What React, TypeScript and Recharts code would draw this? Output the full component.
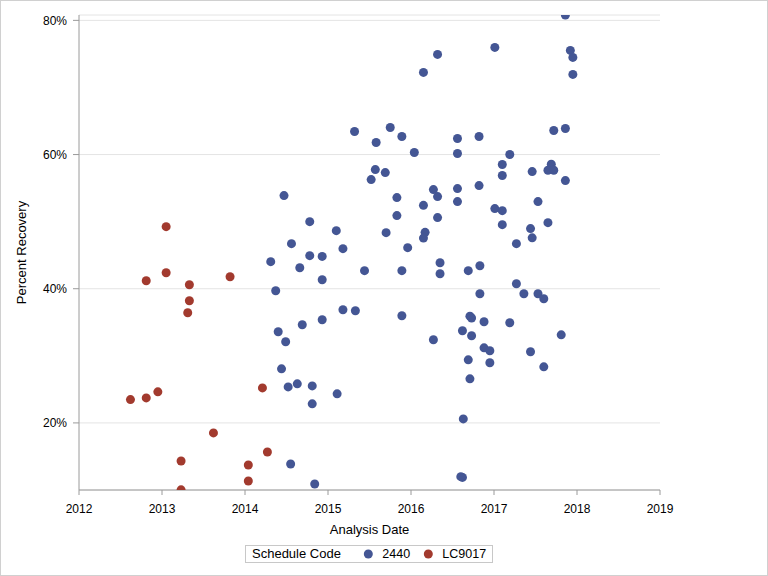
import React from 'react';
import { ScatterChart, Scatter, XAxis, YAxis, CartesianGrid, ReferenceArea } from 'recharts';

const xTicks = [2012, 2013, 2014, 2015, 2016, 2017, 2018, 2019];
const yTicks = [20, 40, 60, 80];

const seriesNames = ['2440', 'LC9017'];
const seriesColors = ['#445694', '#A23A2E'];

const dates2440 = [2017.86,2017.92,2017.95,2017.95,2017.01,2016.32,2016.15,2017.72,2017.86,2015.32,
  2015.58,2015.75,2015.89,2016.04,2016.56,2016.82,2016.56,2017.19,2017.10,2017.10,
  2017.46,2017.69,2017.65,2017.72,2017.86,2015.57,2015.69,2015.52,2014.47,2015.83,
  2016.27,2016.32,2016.56,2016.82,2016.15,2016.56,2017.01,2017.10,2017.53,2015.83,
  2016.32,2017.10,2017.65,2014.78,2015.10,2015.70,2016.17,2016.15,2017.44,2017.46,
  2014.56,2015.18,2015.96,2017.27,2014.31,2014.78,2014.93,2014.66,2015.44,2015.89,
  2016.35,2016.35,2016.69,2016.83,2014.93,2014.37,2017.27,2016.83,2017.36,2017.53,
  2017.60,2015.18,2015.33,2015.89,2014.93,2014.69,2014.40,2014.49,2016.71,2016.73,
  2016.88,2017.19,2016.62,2016.73,2016.27,2017.81,2016.88,2016.95,2017.44,2016.69,
  2016.95,2017.60,2014.44,2016.71,2014.52,2014.63,2014.81,2015.11,2014.81,2016.63,
  2014.55,2016.62,2016.60,2014.84];
const values2440 = [80.79,75.52,74.48,71.94,75.97,74.93,72.24,63.58,63.88,63.43,
  61.79,64.03,62.69,60.30,62.39,62.69,60.15,60.0,58.51,56.87,
  57.46,58.55,57.66,57.66,56.12,57.76,57.31,56.27,53.88,53.58,
  54.78,53.73,54.93,55.37,52.43,52.99,51.94,51.64,52.99,50.90,
  50.60,49.55,49.85,50.0,48.66,48.36,48.40,47.55,48.96,47.58,
  46.72,45.97,46.12,46.72,44.03,44.93,44.82,43.13,42.69,42.69,
  43.88,42.24,42.69,43.43,41.34,39.70,40.75,39.25,39.25,39.25,
  38.51,36.87,36.72,35.97,35.37,34.63,33.58,32.09,35.91,35.64,
  35.07,34.93,33.73,32.99,32.39,33.13,31.19,30.75,30.60,29.40,
  28.96,28.36,28.06,26.57,25.37,25.82,25.52,24.33,22.84,20.60,
  13.88,11.88,11.99,10.90];

const datesLC9017 = [2013.05,2012.81,2013.05,2013.33,2013.82,2013.33,2013.31,2014.21,2012.62,2012.81,
  2012.95,2013.62,2013.23,2014.04,2014.27,2014.04,2013.23];
const valuesLC9017 = [49.25,41.19,42.39,40.60,41.79,38.21,36.42,25.22,23.48,23.73,
  24.63,18.51,14.33,13.73,15.67,11.34,10.02];

const data2440 = dates2440.map((d, i) => ({ x: d, y: values2440[i] }));
const dataLC9017 = datesLC9017.map((d, i) => ({ x: d, y: valuesLC9017[i] }));

const FONT = '"Liberation Sans", Arial, sans-serif';
const AXIS_COLOR = '#9a9a9a';

const Dot = (color: string) => (props: any) => {
  const { cx, cy } = props;
  if (cx == null || cy == null) return <g />;
  return <circle cx={cx} cy={cy} r={4.5} fill={color} />;
};

const YTitle = (props: any) => {
  const vb = props.viewBox || {};
  const x = 26;
  const y = vb.y + vb.height / 2;
  return (
    <text x={x} y={y} transform={`rotate(-90 ${x} ${y})`} textAnchor="middle" fontFamily={FONT} fontSize={13} fill="#000">
      Percent Recovery
    </text>
  );
};

const XTitle = (props: any) => {
  const vb = props.viewBox || {};
  const x = vb.x + vb.width / 2;
  return (
    <text x={x} y={533.5} textAnchor="middle" fontFamily={FONT} fontSize={13} fill="#000">
      Analysis Date
    </text>
  );
};

export default function App() {
  return (
    <div style={{ position: 'absolute', left: 0, top: 0, width: 768, height: 576, background: '#fff', fontFamily: FONT }}>
      <ScatterChart width={768} height={576} margin={{ top: 15, right: 108, bottom: 0, left: 0 }}>
        <CartesianGrid horizontal vertical={false} stroke="#e4e4e4" />
        <XAxis
          type="number"
          dataKey="x"
          domain={[2012, 2019]}
          ticks={xTicks}
          allowDataOverflow
          height={86}
          tickSize={5}
          tickMargin={9}
          stroke={AXIS_COLOR}
          tick={{ fill: '#000', fontSize: 12, fontFamily: FONT }}
          label={<XTitle />}
        />
        <YAxis
          type="number"
          dataKey="y"
          domain={[10, 80.8]}
          ticks={yTicks}
          allowDataOverflow
          width={79}
          tickSize={6}
          tickMargin={6}
          stroke={AXIS_COLOR}
          tickFormatter={(v: number) => `${v}%`}
          tick={{ fill: '#000', fontSize: 12, fontFamily: FONT }}
          label={<YTitle />}
        />
        <ReferenceArea fill="none" stroke={AXIS_COLOR} ifOverflow="visible" />
        <Scatter name={seriesNames[0]} data={data2440} fill={seriesColors[0]} shape={Dot(seriesColors[0])} isAnimationActive={false} />
        <Scatter name={seriesNames[1]} data={dataLC9017} fill={seriesColors[1]} shape={Dot(seriesColors[1])} isAnimationActive={false} />
      </ScatterChart>
      <svg style={{ position: 'absolute', left: 245, top: 545 }} width={248} height={18}>
        <rect x={0.5} y={0.5} width={247} height={17} fill="#fff" stroke="#c8c8c8" />
        <text x={7} y={13} fontFamily={FONT} fontSize={13} fill="#000">Schedule Code</text>
        <circle cx={123.3} cy={9} r={4.5} fill={seriesColors[0]} />
        <text x={137.3} y={13} fontFamily={FONT} fontSize={12.5} fill="#000">{seriesNames[0]}</text>
        <circle cx={183.3} cy={9} r={4.5} fill={seriesColors[1]} />
        <text x={197.3} y={13} fontFamily={FONT} fontSize={12.5} fill="#000">{seriesNames[1]}</text>
      </svg>
      <div style={{ position: 'absolute', left: 0, top: 0, width: 768, height: 576, boxSizing: 'border-box', border: '1px solid #d0d0d0', pointerEvents: 'none' }} />
    </div>
  );
}
